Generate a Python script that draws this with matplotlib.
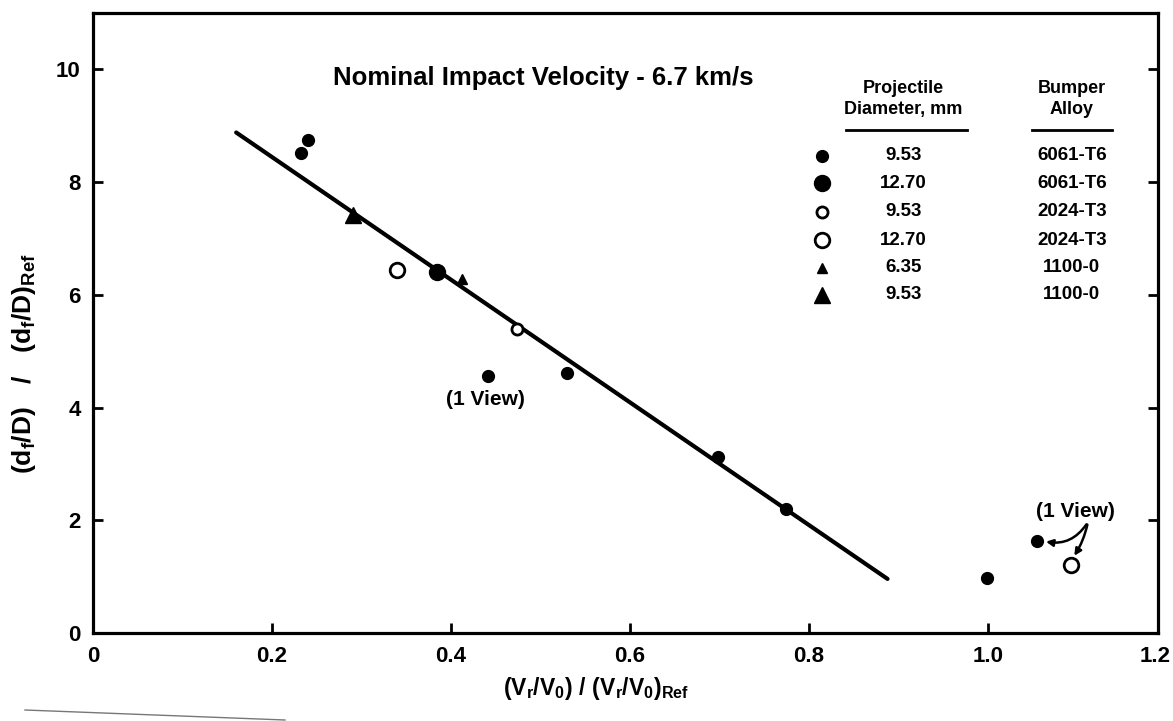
import matplotlib
matplotlib.use("Agg")
import matplotlib.pyplot as plt
from matplotlib.lines import Line2D

plt.rcParams['font.family'] = ['Liberation Sans', 'DejaVu Sans']
plt.rcParams['mathtext.fontset'] = 'custom'
plt.rcParams['mathtext.rm'] = 'Liberation Sans:bold'
plt.rcParams['mathtext.bf'] = 'Liberation Sans:bold'
plt.rcParams['mathtext.it'] = 'Liberation Sans:bold'

# Measured points, grouped by projectile diameter and bumper alloy
x_953_6061 = [0.232, 0.240, 0.441, 0.530, 0.698, 0.775, 0.999, 1.055]
y_953_6061 = [8.51, 8.74, 4.56, 4.61, 3.12, 2.20, 0.975, 1.63]
x_1270_6061 = [0.384]
y_1270_6061 = [6.40]
x_953_2024 = [0.474]
y_953_2024 = [5.39]
x_1270_2024 = [0.340, 1.093]
y_1270_2024 = [6.44, 1.21]
x_635_1100 = [0.412]
y_635_1100 = [6.28]
x_953_1100 = [0.291]
y_953_1100 = [7.41]

# Straight-line fit drawn through the data
fit_x = [0.160, 0.888]
fit_y = [8.88, 0.96]

legend_diam = ["9.53", "12.70", "9.53", "12.70", "6.35", "9.53"]
legend_alloy = ["6061-T6", "6061-T6", "2024-T3", "2024-T3", "1100-0", "1100-0"]

x_ticks = [0, 0.2, 0.4, 0.6, 0.8, 1.0]
x_tick_labels = ["0", "0.2", "0.4", "0.6", "0.8", "1.0"]
x_edge_label = "1.2"
y_ticks = [0, 2, 4, 6, 8, 10]

fig = plt.figure(figsize=(11.73, 7.21), dpi=100)
ax = fig.add_axes([0.0793, 0.122, 0.9077, 0.860])

ax.plot(fit_x, fit_y, color='black', lw=3.0, solid_capstyle='round', zorder=2)

styles = [
    (x_953_6061, y_953_6061, dict(marker='o', ms=8.5, mfc='black', mec='black')),
    (x_1270_6061, y_1270_6061, dict(marker='o', ms=11.5, mfc='black', mec='black')),
    (x_953_2024, y_953_2024, dict(marker='o', ms=8.0, mfc='white', mec='black', mew=2.0)),
    (x_1270_2024, y_1270_2024, dict(marker='o', ms=10.5, mfc='white', mec='black', mew=2.0)),
    (x_635_1100, y_635_1100, dict(marker='^', ms=7.5, mfc='black', mec='black')),
    (x_953_1100, y_953_1100, dict(marker='^', ms=11.0, mfc='black', mec='black')),
]
for xs, ys, st in styles:
    ax.plot(xs, ys, ls='none', zorder=3, **st)

ax.set_xticks(x_ticks)
ax.set_xticklabels(x_tick_labels)
ax.set_yticks(y_ticks)
ax.set_xlim(0, 1.19)
ax.set_ylim(0, 11)
for s in ax.spines.values():
    s.set_linewidth(2.3)
ax.tick_params(direction='in', length=7, width=2, labelsize=16, right=True, top=False)
ax.tick_params(axis='x', pad=9)
ax.tick_params(axis='y', pad=9)
for lab in ax.get_xticklabels() + ax.get_yticklabels():
    lab.set_fontweight('bold')
# label at the right-hand edge of the x range, set like the other tick labels
ax.annotate(x_edge_label, xy=(1.187, 0), xycoords=('data', 'axes fraction'),
            xytext=(0, -9), textcoords='offset points', ha='center', va='top',
            fontsize=16, fontweight='bold', annotation_clip=False)

ax.set_xlabel(r'$\mathbf{(V_r/V_0)\ /\ (V_r/V_0)_{Ref}}$', fontsize=16.5)
ax.xaxis.set_label_coords(0.472, -0.068)
ax.set_ylabel(r'$\mathbf{(d_f/D)\quad/\quad(d_f/D)_{Ref}}$', fontsize=19)
ax.yaxis.set_label_coords(-0.052, 0.435)

ax.text(0.503, 9.84, "Nominal Impact Velocity - 6.7 km/s", fontsize=18.5,
        fontweight='bold', ha='center', va='center')

# Legend table
col_mark, col_diam, col_alloy = 0.815, 0.906, 1.094
ax.text(col_diam, 9.47, "Projectile\nDiameter, mm", ha='center', va='center',
        fontsize=13, fontweight='bold', linespacing=1.3)
ax.text(col_alloy, 9.47, "Bumper\nAlloy", ha='center', va='center',
        fontsize=13, fontweight='bold', linespacing=1.3)
ax.plot([0.842, 0.977], [8.92, 8.92], color='black', lw=2)
ax.plot([1.050, 1.139], [8.92, 8.92], color='black', lw=2)
row_y = [8.47, 7.98, 7.47, 6.97, 6.48, 6.00]
for (xs, ys, st), yy, d, a in zip(styles, row_y, legend_diam, legend_alloy):
    ax.plot([col_mark], [yy], ls='none', **st)
    ax.text(col_diam, yy, d, ha='center', va='center', fontsize=13.5, fontweight='bold')
    ax.text(col_alloy, yy, a, ha='center', va='center', fontsize=13.5, fontweight='bold')

# Single-view annotations
ax.text(0.439, 4.15, "(1 View)", ha='center', va='center', fontsize=15, fontweight='bold')
ax.text(1.098, 2.16, "(1 View)", ha='center', va='center', fontsize=15, fontweight='bold')
ax.annotate("", xy=(1.062, 1.63), xytext=(1.112, 1.97),
            arrowprops=dict(arrowstyle='-|>', color='black', lw=1.8,
                            connectionstyle='arc3,rad=-0.35', mutation_scale=10))
ax.annotate("", xy=(1.095, 1.33), xytext=(1.112, 1.97),
            arrowprops=dict(arrowstyle='-|>', color='black', lw=1.8,
                            connectionstyle='arc3,rad=-0.1', mutation_scale=10))

# faint scan streak below the x axis
fig.add_artist(Line2D([25 / 1173, 285 / 1173], [1 - 710 / 721, 1 - 720 / 721],
                      color='#555555', lw=1.0, alpha=0.8))

fig.savefig("out.png", dpi=100)
